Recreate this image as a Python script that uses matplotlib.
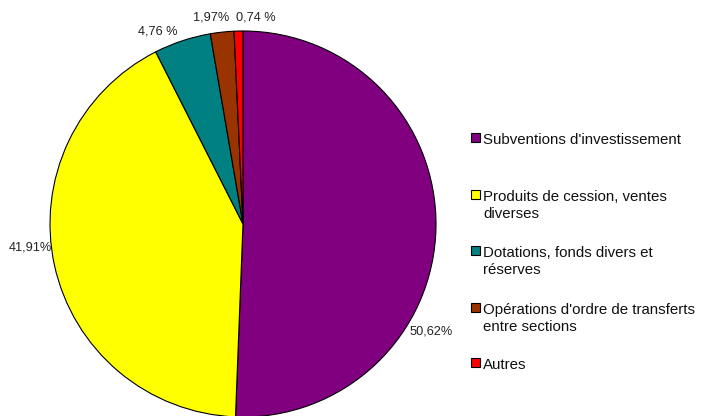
import matplotlib
matplotlib.use("Agg")
import matplotlib.pyplot as plt
from matplotlib.patches import Rectangle

categories = ["Subventions d'investissement",
              "Produits de cession, ventes\ndiverses",
              "Dotations, fonds divers et\nréserves",
              "Opérations d'ordre de transferts\nentre sections",
              "Autres"]
values = [50.62, 41.91, 4.76, 1.97, 0.74]
value_labels = ["50,62%", "41,91%", "4,76 %", "1,97%", "0,74 %"]
colors = ["#800080", "#FFFF00", "#008080", "#993300", "#FF0000"]

W, H = 701, 416
fig = plt.figure(figsize=(W / 100, H / 100), dpi=100)
plt.rcParams['font.family'] = ['Liberation Sans', 'DejaVu Sans']

def fx(x):
    return x / W

def fy(y):
    return 1 - y / H

cx, cy, r = 243, 224, 193
ax = fig.add_axes([fx(cx - r), fy(cy + r), 2 * r / W, 2 * r / H])
ax.pie(values, colors=colors, startangle=90, counterclock=False,
       wedgeprops=dict(edgecolor="black", linewidth=0.8))
ax.set_xlim(-1, 1)
ax.set_ylim(-1, 1)
ax.set_aspect("auto")
ax.axis("off")

# value label positions (pixel centers)
label_pos = [(431, 331), (30, 247), (158, 32), (211, 18), (256, 18)]
for txt, (x, y) in zip(value_labels, label_pos):
    fig.text(fx(x), fy(y), txt, ha="center", va="center", fontsize=9.2, color="#222222")

# legend
first_line_y = [140, 197, 253, 310, 365]
line_gap = 17
for name, col, y in zip(categories, colors, first_line_y):
    n = name.count("\n") + 1
    fig.patches.append(Rectangle((fx(471), fy(y + 2)), 9 / W, 9 / H,
                                 transform=fig.transFigure, facecolor=col,
                                 edgecolor="black", linewidth=0.8))
    fig.text(fx(483), fy(y + (n - 1) * line_gap / 2), name, ha="left", va="center",
             fontsize=10.8, linespacing=1.22, color="#111111")

fig.savefig("out.png", dpi=100)
